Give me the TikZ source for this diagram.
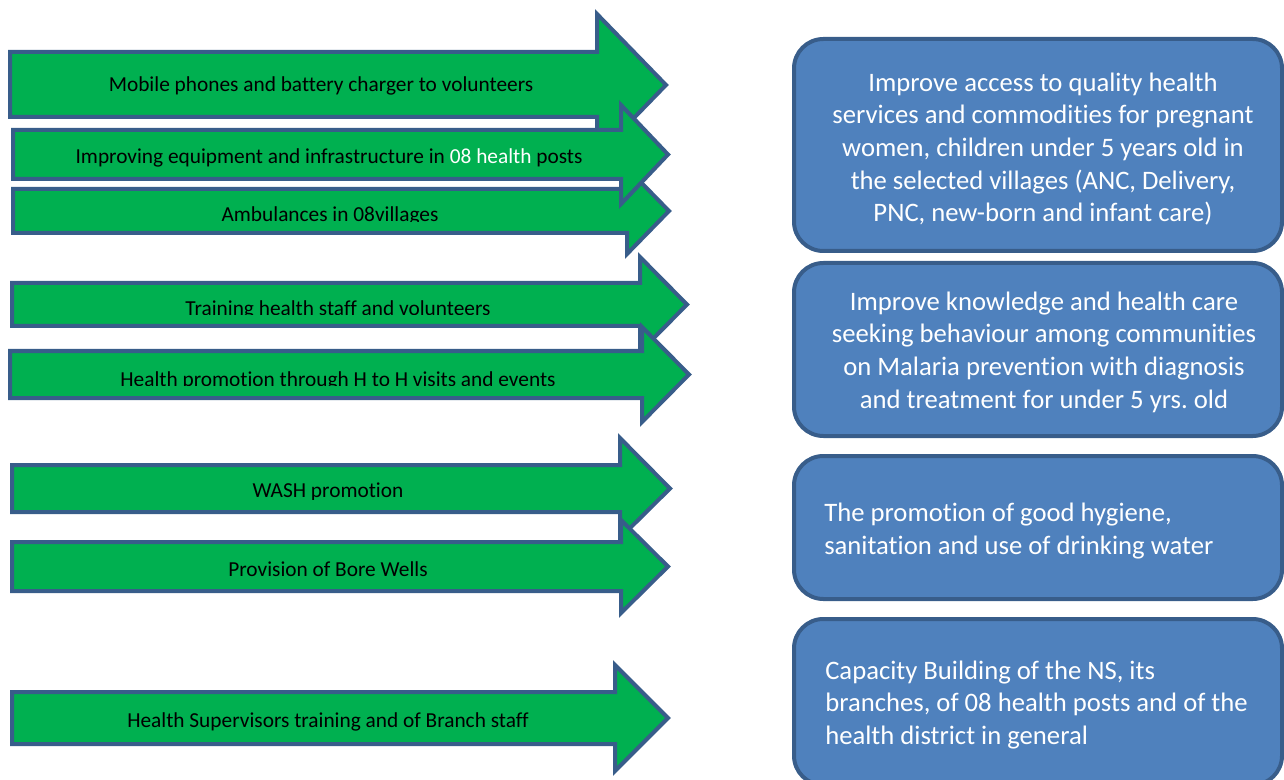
\documentclass[tikz,border=0pt]{standalone}
\usepackage{fontspec}
\setmainfont{Carlito}[Ligatures=NoCommon]
\usepackage{tikz}
\definecolor{actgreen}{HTML}{00B050}
\definecolor{goalblue}{HTML}{4F81BD}
\definecolor{edge}{HTML}{385D8A}
\tikzset{
  act/.style={fill=actgreen,draw=edge,line width=3pt},
  goal/.style={fill=goalblue,draw=edge,line width=3pt,rounded corners=22pt},
  acttext/.style={anchor=base,inner sep=0pt,font=\fontsize{16}{19}\selectfont},
  goaltext/.style={inner sep=0pt,text=white,font=\fontsize{20}{24.5}\selectfont},
}
\frenchspacing
\begin{document}
\begin{tikzpicture}[x=0.75pt,y=-0.75pt]
    \useasboundingbox (0,0) rectangle (1284,780);
    \clip (0,0) rectangle (1284,780);
    % activity arrows: left/top/bottom/head base/head top/head bottom/tip x/tip y
    \foreach \l/\t/\b/\h/\u/\d/\p/\m in {10/52/117/597/14/156/666/85,
        13/189/233/627/168/254/669/211, 13/130/179/621/105/204/668/154.5,
        12/283/326/640/257/352/687/304.5, 10/351/398/642/327/422/689/374.5,
        12/465/512/620/438/538/670/488.5, 12/542/591/621/520/613/668/566.5,
        12/692/744/615/665/771/668/718}
      \draw[act] (\l,\t) -- (\h,\t) -- (\h,\u) -- (\p,\m) -- (\h,\d) -- (\h,\b) -- (\l,\b) -- cycle;
    \node[acttext] (mobile) at (321,92) {Mobile phones and battery charger to volunteers};
    \node[acttext] (equip) at (329,164) {Improving equipment and infrastructure in \textcolor{white}{08 health} posts};
    \begin{scope}
      \clip (0,190) rectangle (620,222);
      \node[acttext] (ambul) at (330,222) {Ambulances in 08villages};
    \end{scope}
    \begin{scope}
      \clip (0,284) rectangle (640,315);
      \node[acttext] (train) at (338,316) {Training health staff and volunteers};
    \end{scope}
    \begin{scope}
      \clip (0,352) rectangle (640,385);
      \node[acttext] (promo) at (338,386) {Health promotion through H to H visits and events};
    \end{scope}
    \begin{scope}
      \clip (0,466) rectangle (620,499);
      \node[acttext] (wash) at (328,497) {WASH promotion};
    \end{scope}
    \node[acttext] (wells) at (328,576) {Provision of Bore Wells};
    \node[acttext] (superv) at (328,727) {Health Supervisors training and of Branch staff};
    % objectives
    \draw[goal] (794,39) rectangle (1282,251);
    \draw[goal] (794,263) rectangle (1282,436);
    \draw[goal] (794,456) rectangle (1282,599);
    \draw[goal] (794,619) rectangle (1282,785);
    \node[goaltext,align=center] (access) at (1043,149) {Improve access to quality health\\
      services and commodities for pregnant\\ women, children under 5 years old in\\
      the selected villages (ANC, Delivery,\\ PNC, new-born and infant care)};
    \node[goaltext,align=center] (malaria) at (1044,352) {Improve knowledge and health care\\
      seeking behaviour among communities\\ on Malaria prevention with diagnosis\\
      and treatment for under 5 yrs. old};
    \node[goaltext,align=left,anchor=west] (hygiene) at (824,531) {The promotion of good hygiene,\\
      sanitation and use of drinking water};
    \node[goaltext,align=left,anchor=west] (capacity) at (825,705) {Capacity Building of the NS, its\\
      branches, of 08 health posts and of the\\ health district in general};
\end{tikzpicture}
\end{document}
